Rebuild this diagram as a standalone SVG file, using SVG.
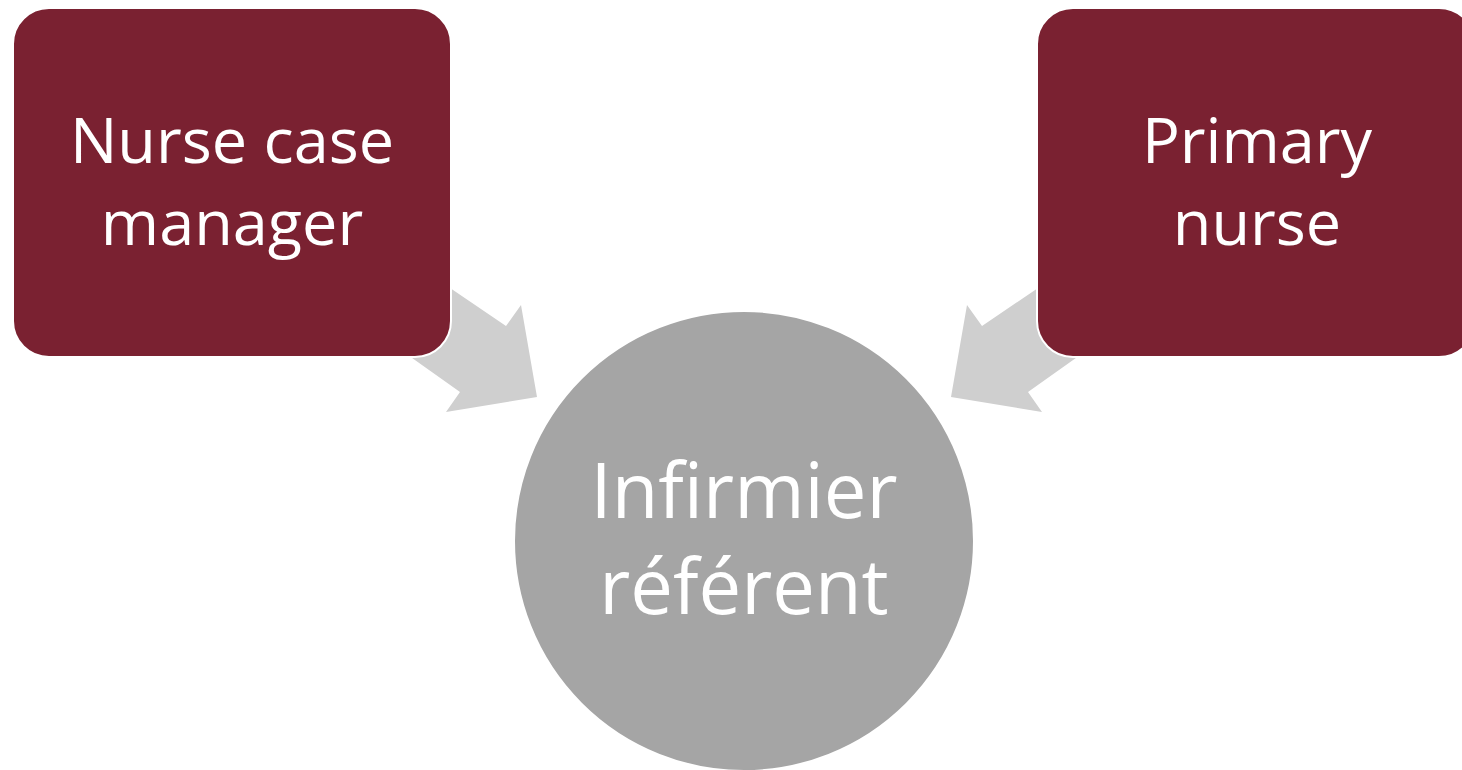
<svg xmlns="http://www.w3.org/2000/svg" width="1462" height="770" viewBox="0 0 1462 770">
<style>
.box{fill:#7A2131;stroke:#ffffff;stroke-width:2}
.circ{fill:#A5A5A5;stroke:#ffffff;stroke-width:2}
.arrow{fill:#CFCFCF}
.lbl{font-family:"Open Sans","Noto Sans",sans-serif;fill:#ffffff;text-anchor:middle}
.sm{font-size:63px}
.lg{font-size:76px}
</style>
<rect width="1462" height="770" fill="#ffffff"/>
<g id="connectors">
<polygon class="arrow" points="403,256 506,326 521,305 537,397 446,412 460,392 367,326"/>
<polygon class="arrow" points="1085,256 982,326 967,305 951,397 1042,412 1028,392 1121,326"/>
</g>
<g id="node-nurse-case-manager">
<rect class="box" x="13" y="8" width="438" height="349" rx="36"/>
<text class="lbl sm" x="232" y="163">Nurse case</text>
<text class="lbl sm" x="232" y="245">manager</text>
</g>
<g id="node-primary-nurse">
<rect class="box" x="1037" y="8" width="438" height="349" rx="36"/>
<text class="lbl sm" x="1257" y="163">Primary</text>
<text class="lbl sm" x="1257" y="245">nurse</text>
</g>
<g id="node-infirmier-referent">
<circle class="circ" cx="744" cy="541" r="230"/>
<text class="lbl lg" x="744" y="518">Infirmier</text>
<text class="lbl lg" x="744" y="614">référent</text>
</g>
</svg>
